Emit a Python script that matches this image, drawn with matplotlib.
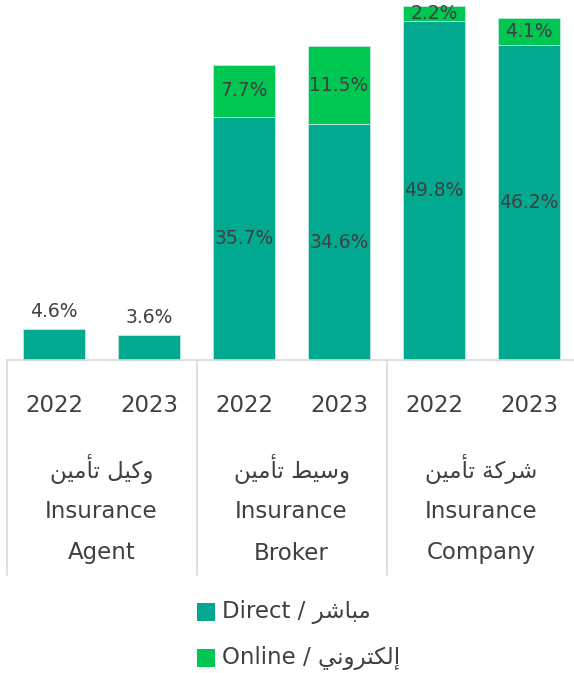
import matplotlib
matplotlib.use("Agg")
import matplotlib.pyplot as plt
from matplotlib.patches import Rectangle

# ---- data ----
years = ["2022", "2023", "2022", "2023", "2022", "2023"]
groups_ar = ["ﻦﻴﻣﺄﺗ ﻞﻴﻛﻭ", "ﻦﻴﻣﺄﺗ ﻂﻴﺳﻭ", "ﻦﻴﻣﺄﺗ ﺔﻛﺮﺷ"]
groups_en1 = ["Insurance", "Insurance", "Insurance"]
groups_en2 = ["Agent", "Broker", "Company"]
direct = [4.6, 3.6, 35.7, 34.6, 49.8, 46.2]
online = [0.0, 0.0, 7.7, 11.5, 2.2, 4.1]
series_labels = ["Direct / ﺮﺷﺎﺒﻣ", "Online / ﻲﻧﻭﺮﺘﻜﻟﺇ"]

C_DIRECT = "#00A98F"
C_ONLINE = "#00C652"
TXT = "#404040"
GRID = "#d9d9d9"
FAM = ["DejaVu Sans"]

W, H = 574, 673
fig = plt.figure(figsize=(W / 100, H / 100), dpi=100)
ax_bottom_px = 360
ax_top_px = 6
ax = fig.add_axes([0, (H - ax_bottom_px) / H, 1, (ax_bottom_px - ax_top_px) / H])
x = list(range(len(direct)))
ax.set_xlim(-54 / 95, (W - 54) / 95)
ax.set_ylim(0, 52.0)
ax.axis("off")

bw = 0.66
ax.bar(x, direct, width=bw, color=C_DIRECT, edgecolor="#bfe9e0", linewidth=0.6, clip_on=False)
ax.bar(x, online, width=bw, bottom=direct, color=C_ONLINE, edgecolor="#bfe9e0", linewidth=0.6, clip_on=False)

LS = 13.5
for i, (d, o) in enumerate(zip(direct, online)):
    if d < 10:
        ax.text(i, d + 1.2, f"{d}%", ha="center", va="bottom", fontsize=LS, color=TXT, family=FAM)
    else:
        ax.text(i, d / 2, f"{d}%", ha="center", va="center", fontsize=LS, color=TXT, family=FAM)
    if o > 0:
        ax.text(i, d + o / 2, f"{o}%", ha="center", va="center", fontsize=LS, color=TXT, family=FAM)

axh = ax_bottom_px - ax_top_px
def ay(px):
    return -(px - ax_bottom_px) / axh

tr = ax.get_xaxis_transform()
# axis line and separators
ax.plot([-0.5, x[-1] + 1.0], [0, 0], color=GRID, lw=1.2, transform=tr, clip_on=False)
for sx in [-0.5, 1.5, 3.5]:
    ax.plot([sx, sx], [0, ay(575)], color=GRID, lw=1.2, transform=tr, clip_on=False)

FS = 16.5
for i, yr in enumerate(years):
    ax.text(i, ay(405), yr, ha="center", va="center", fontsize=FS, color=TXT, family=FAM, transform=tr)

for g in range(3):
    cx = 2 * g + 0.5
    ax.text(cx, ay(469), groups_ar[g], ha="center", va="center", fontsize=16.5, color=TXT, family=FAM, transform=tr)
    ax.text(cx, ay(512), groups_en1[g], ha="center", va="center", fontsize=FS, color=TXT, family=FAM, transform=tr)
    ax.text(cx, ay(553), groups_en2[g], ha="center", va="center", fontsize=FS, color=TXT, family=FAM, transform=tr)

# legend
for k, (lab, col) in enumerate(zip(series_labels, [C_DIRECT, C_ONLINE])):
    cy = 612 + 46 * k
    fig.add_artist(Rectangle((197 / W, (H - cy - 9) / H), 18 / W, 18 / H, transform=fig.transFigure,
                             facecolor=col, edgecolor="none"))
    fig.text(222 / W, (H - cy) / H, lab, ha="left", va="center", fontsize=16.5, color=TXT, family=FAM)

fig.savefig("out.png", dpi=100)
